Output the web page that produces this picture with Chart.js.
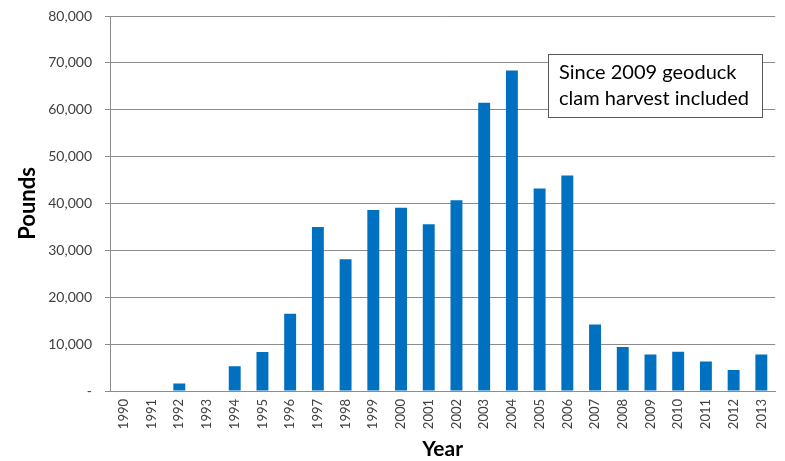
<!DOCTYPE html>
<html>
<head>
<meta charset="utf-8">
<script src="https://cdn.jsdelivr.net/npm/chart.js@4.4.1/dist/chart.umd.min.js"></script>
<style>
  html, body { margin: 0; padding: 0; background: #ffffff; }
  #wrap { width: 785px; height: 461px; position: relative; }
</style>
</head>
<body>
<div id="wrap"><canvas id="c" width="785" height="461"></canvas></div>
<script>
// Annual harvest, pounds
const years = ['1990','1991','1992','1993','1994','1995','1996','1997','1998','1999',
               '2000','2001','2002','2003','2004','2005','2006','2007','2008','2009',
               '2010','2011','2012','2013'];
const pounds = [0, 0, 1600, 0, 5300, 8300, 16500, 35000, 28100, 38600,
                39100, 35600, 40700, 61500, 68400, 43200, 46000, 14200, 9400, 7800,
                8400, 6300, 4500, 7800];
const yTicks = [0, 10000, 20000, 30000, 40000, 50000, 60000, 70000, 80000];
const noteLines = ['Since 2009 geoduck', 'clam harvest included'];

const FONT = 'Lato, "Open Sans", "DejaVu Sans", sans-serif';
const GRID = '#8c8c8c';
const TEXT = '#404040';

// Boxed note drawn in the upper right of the plot
const notePlugin = {
  id: 'noteBox',
  afterDraw(chart) {
    const ctx = chart.ctx;
    const x = 548, y = 54, w = 214, h = 63;
    ctx.save();
    ctx.fillStyle = '#ffffff';
    ctx.fillRect(x, y, w, h);
    ctx.strokeStyle = '#595959';
    ctx.lineWidth = 1;
    ctx.strokeRect(x + 0.5, y + 0.5, w, h);
    ctx.fillStyle = '#000000';
    ctx.font = '20px ' + FONT;
    ctx.textBaseline = 'middle';
    ctx.textAlign = 'left';
    ctx.fillText(noteLines[0], x + 11, y + 19);
    ctx.fillText(noteLines[1], x + 11, y + 45);
    ctx.restore();
  }
};

new Chart(document.getElementById('c'), {
  type: 'bar',
  data: {
    labels: years,
    datasets: [{
      data: pounds,
      backgroundColor: '#0070c0',
      borderWidth: 0,
      barPercentage: 0.43,
      categoryPercentage: 1.0
    }]
  },
  options: {
    responsive: false,
    animation: false,
    events: [],
    layout: { padding: { left: 0, right: 3, top: 16, bottom: 0 } },
    plugins: { legend: { display: false }, tooltip: { enabled: false } },
    scales: {
      x: {
        grid: { display: false, drawTicks: false },
        border: { display: true, color: GRID, width: 1 },
        ticks: {
          color: TEXT,
          font: { family: FONT, size: 13 },
          minRotation: 90, maxRotation: 90,
          padding: 8,
          autoSkip: false
        },
        title: {
          display: true, text: 'Year', color: '#000000',
          font: { family: FONT, size: 21, weight: 'bold', lineHeight: 1.1 },
          padding: { top: 0, bottom: 0 }
        },
        afterFit(scale) {
          scale.height = 70;
          scale.paddingTop = 0;
          scale.paddingBottom = 0;
        }
      },
      y: {
        min: 0, max: 80000,
        afterBuildTicks(scale) { scale.ticks = yTicks.map(v => ({ value: v })); },
        grid: { color: GRID, lineWidth: 1, tickLength: 5, drawTicks: true },
        border: { display: true, color: GRID, width: 1 },
        ticks: {
          color: TEXT,
          font: { family: FONT, size: 14 },
          padding: 13,
          callback: v => v === 0 ? '-' : v.toLocaleString('en-US')
        },
        title: {
          display: true, text: 'Pounds', color: '#000000',
          font: { family: FONT, size: 22, weight: 'bold', lineHeight: 1.2 },
          padding: { top: 15, bottom: 0 }
        },
        afterFit(scale) {
          scale.width = 110;
          scale.paddingTop = 0;
          scale.paddingBottom = 0;
        }
      }
    }
  },
  plugins: [notePlugin]
});
</script>
</body>
</html>
